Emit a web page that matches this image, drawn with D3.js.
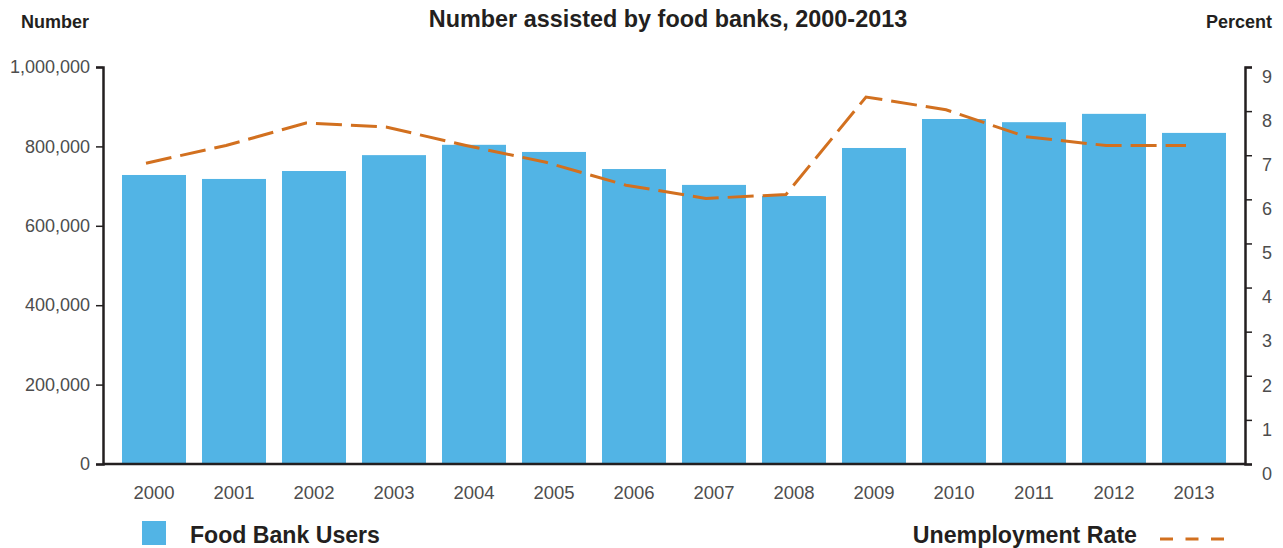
<!DOCTYPE html>
<html><head><meta charset="utf-8">
<script src="https://cdn.jsdelivr.net/npm/d3@7/dist/d3.min.js"></script>
<style>
html,body{margin:0;padding:0;background:#fff;}
svg{display:block;font-family:"Liberation Sans",Arial,Helvetica,sans-serif;}
</style></head>
<body><svg id="chart" width="1283" height="548"></svg>
<script>
const years = ["2000","2001","2002","2003","2004","2005","2006","2007","2008","2009","2010","2011","2012","2013"];
const foodBankUsers = [728000,718000,738000,778000,804000,786000,743000,703000,675000,796000,869000,861000,882000,834000];
const unemploymentRate = [6.82,7.22,7.73,7.64,7.22,6.84,6.32,6.02,6.11,8.32,8.03,7.42,7.22,7.22];
const leftTicks = [0,200000,400000,600000,800000,1000000];
const rightTicks = [0,1,2,3,4,5,6,7,8,9];

const svg = d3.select("#chart");
const x0 = 103, x1 = 1245, yTop = 67, yBot = 464;
const barColor = "#52b4e5", lineColor = "#d2701f", axisColor = "#231f20", textColor = "#4d4d4d";

const x = d3.scaleBand().domain(years).range([114, 1234]).paddingInner(0.2).paddingOuter(0.1);
const yL = d3.scaleLinear().domain([0, 1000000]).range([yBot, yTop]);
const yR = d3.scaleLinear().domain([0, 9]).range([yBot, yTop]);

// bars
svg.append("g").selectAll("rect").data(foodBankUsers).join("rect")
  .attr("x", (d,i) => x(years[i]))
  .attr("y", d => yL(d))
  .attr("width", x.bandwidth())
  .attr("height", d => yBot - yL(d))
  .attr("fill", barColor);

// line
const line = d3.line()
  .x((d,i) => x(years[i]) + x.bandwidth()/2 - 8)
  .y(d => yR(d));
svg.append("path").datum(unemploymentRate)
  .attr("d", line)
  .attr("fill", "none")
  .attr("stroke", lineColor)
  .attr("stroke-width", 3)
  .attr("stroke-dasharray", "26,9");

// left axis
const gL = svg.append("g").attr("transform", `translate(${x0},0)`)
  .call(d3.axisLeft(yL).tickValues(leftTicks).tickFormat(d3.format(",")).tickSize(7).tickPadding(6).tickSizeOuter(7));
gL.select(".domain").attr("stroke", axisColor).attr("stroke-width", 2.5);
gL.selectAll(".tick line").attr("stroke", axisColor).attr("stroke-width", 1.5);
gL.selectAll(".tick text").attr("fill", textColor).style("font-size", "18px").attr("font-family", null);

// right axis
const gR = svg.append("g").attr("transform", `translate(${x1},0)`)
  .call(d3.axisRight(yR).tickValues(rightTicks).tickSize(7).tickPadding(10).tickSizeOuter(7));
gR.select(".domain").attr("stroke", axisColor).attr("stroke-width", 2.5);
gR.selectAll(".tick line").attr("stroke", axisColor).attr("stroke-width", 1.5);
gR.selectAll(".tick text").attr("fill", textColor).style("font-size", "18px").attr("font-family", null).attr("dy", "0.85em");

// x axis
const gX = svg.append("g").attr("transform", `translate(0,${yBot})`)
  .call(d3.axisBottom(x).tickSize(0).tickPadding(22));
gX.select(".domain").attr("d", `M${x0},0H${x1}`).attr("stroke", axisColor).attr("stroke-width", 2.5);
gX.selectAll(".tick text").attr("fill", textColor).style("font-size", "18.5px").attr("font-family", null);

// titles
svg.append("text").attr("x", 668).attr("y", 27).attr("text-anchor", "middle")
  .attr("font-weight", "bold").attr("font-size", 23.4).attr("fill", "#231f20")
  .text("Number assisted by food banks, 2000-2013");
svg.append("text").attr("x", 21).attr("y", 28)
  .attr("font-weight", "bold").attr("font-size", 18).attr("fill", "#231f20").text("Number");
svg.append("text").attr("x", 1272).attr("y", 28).attr("text-anchor", "end")
  .attr("font-weight", "bold").attr("font-size", 18).attr("fill", "#231f20").text("Percent");

// legend
svg.append("rect").attr("x", 142).attr("y", 521).attr("width", 24).attr("height", 24).attr("fill", barColor);
svg.append("text").attr("x", 190).attr("y", 543).attr("font-weight", "bold").attr("font-size", 23.1)
  .attr("fill", "#231f20").text("Food Bank Users");
svg.append("text").attr("x", 1137).attr("y", 543).attr("text-anchor", "end").attr("font-weight", "bold").attr("font-size", 23.2)
  .attr("fill", "#231f20").text("Unemployment Rate");
svg.append("line").attr("x1", 1160).attr("x2", 1224).attr("y1", 539).attr("y2", 539)
  .attr("stroke", lineColor).attr("stroke-width", 3).attr("stroke-dasharray", "13,12.5");
</script></body></html>
